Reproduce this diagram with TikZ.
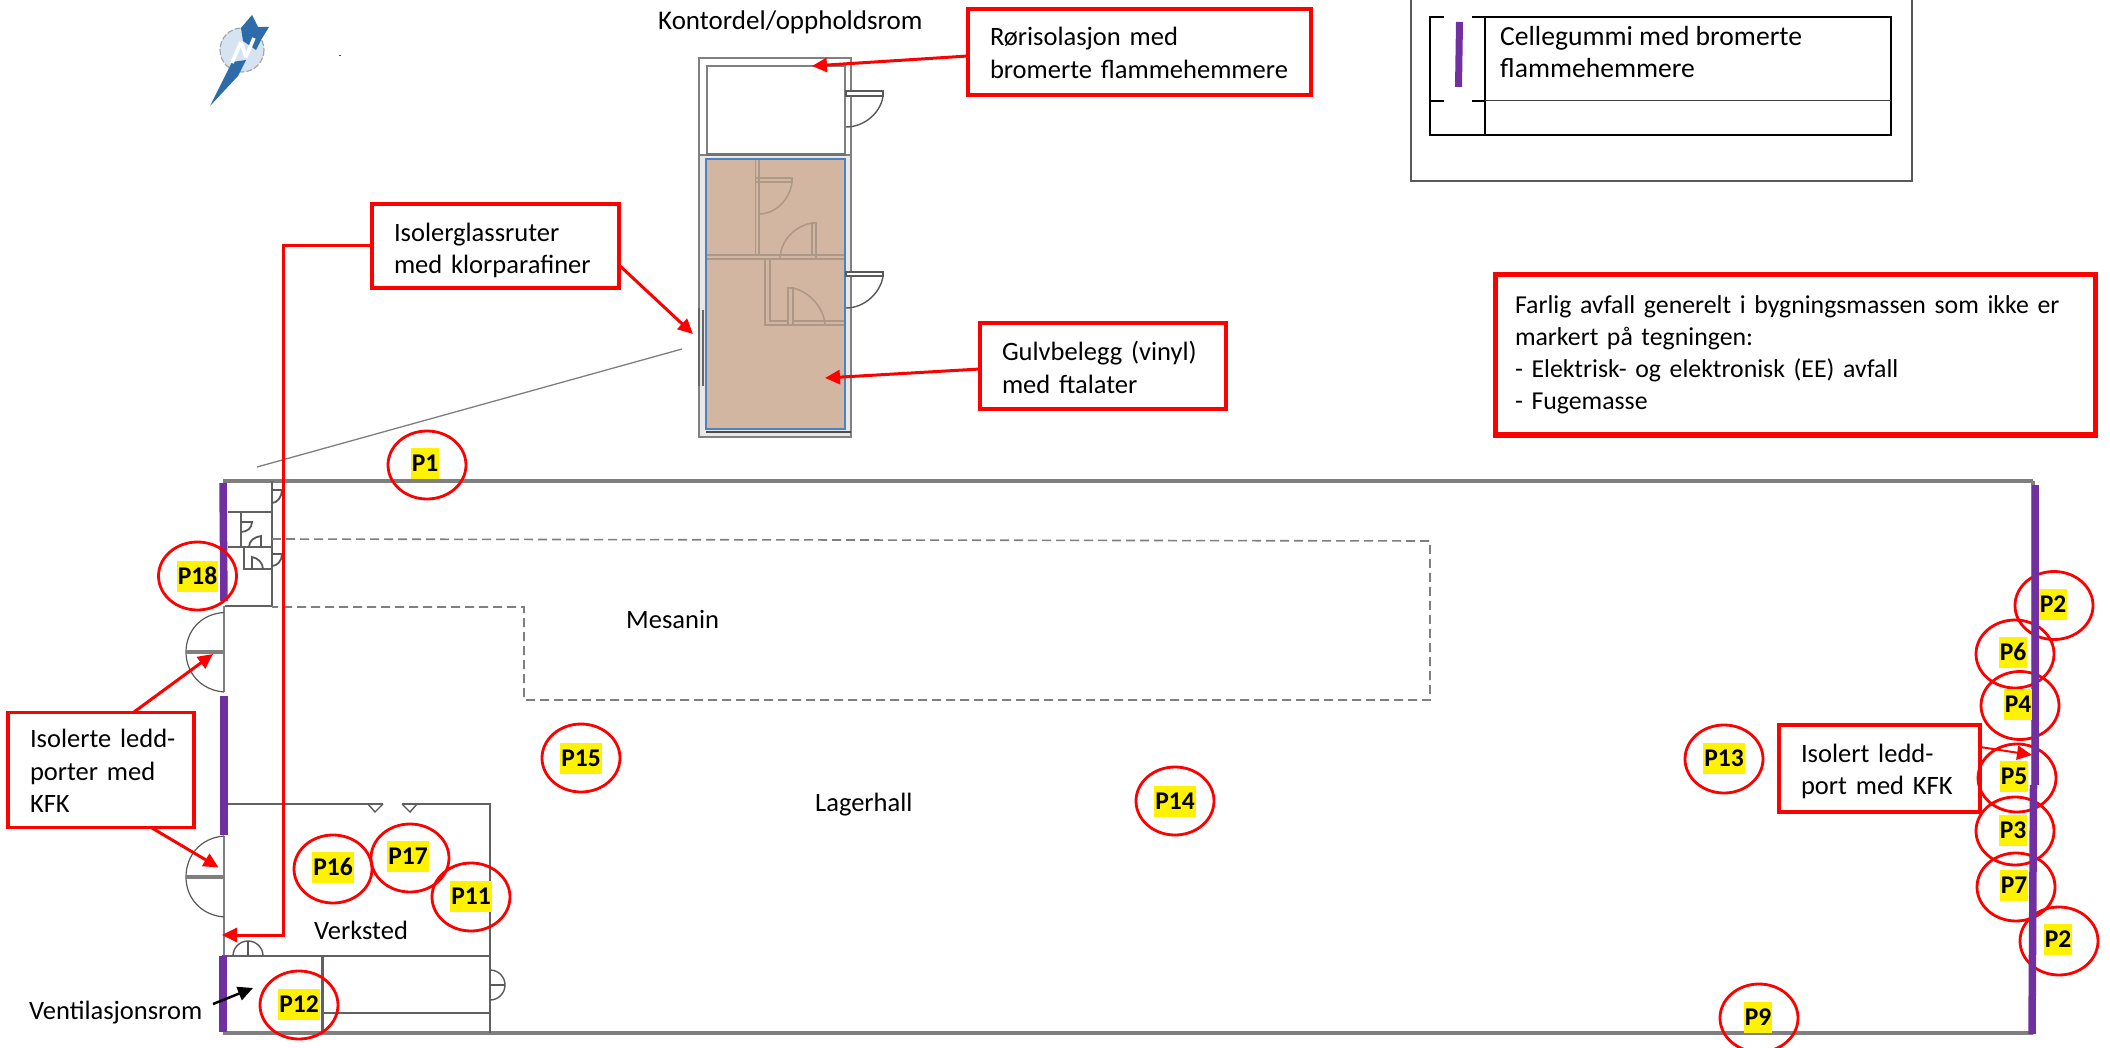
\documentclass[tikz,border=0pt]{standalone}
\usepackage{fontspec}
\setmainfont{Carlito}
\usetikzlibrary{arrows.meta,shapes.geometric}
\definecolor{wallgray}{HTML}{7F7F7F}
\definecolor{lila}{HTML}{7030A0}
\definecolor{tan}{HTML}{D2B6A1}
\definecolor{tanline}{HTML}{AD9787}
\definecolor{bluerim}{HTML}{4A82C3}
\definecolor{logoblue}{HTML}{2E6BAB}
\definecolor{logolight}{HTML}{D6E4F2}
\newcommand\liftby[1]{\rule{0pt}{#1pt}}
\tikzset{
  x=1pt,y=-1pt,
  every node/.style={font=\fontsize{26.5}{32.4}\selectfont},
  plain/.style={inner sep=0pt,anchor=west},
  redbox/.style={draw=red,fill=white,line width=3.5pt,rectangle,align=left,inner xsep=22pt,inner ysep=0pt},
  redarrow/.style={draw=red,line width=3pt,-{Triangle[length=15pt,width=14pt]}},
  wall/.style={draw=wallgray,line width=3.5pt},
  thin wall/.style={draw=black!62,line width=2.4pt},
  lilabar/.style={draw=lila,line width=7.5pt},
  ringp/.style={draw=red,line width=2.8pt,ellipse,minimum width=78pt,minimum height=68pt,inner sep=0pt},
  tag/.style={fill=yellow,inner xsep=1pt,inner ysep=0pt,minimum height=31pt,font=\fontsize{25.5}{28}\bfseries\selectfont},
  inroom/.style={draw=tanline,line width=1.5pt},
  plan/.style={draw=black!65,line width=1.4pt},
  officewall/.style={draw=black!50,line width=1.4pt}
}
\begin{document}
\begin{tikzpicture}
\useasboundingbox (0,0) rectangle (2110,1048);
\fill[white] (0,0) rectangle (2110,1048);

% logo
\fill[logolight] (242,50) circle (22);
\draw[gray!70,line width=1.2pt,dash pattern=on 6pt off 2pt] (242,50) circle (22);
\fill[logoblue] (252,15) -- (258,27) -- (269,27) -- (261,40) -- (256,50) -- (243,41) -- (241,28) -- cycle;
\fill[logoblue] (210,106) -- (232,62) -- (246,60) -- (238,76) -- cycle;
\draw[white,line width=3.5pt,line join=bevel] (232,63) -- (241,42) -- (246,57) -- (254,38);
\fill[black!70] (339,55) rectangle (341,56);

% legend
\draw[gray!70!black,line width=1.4pt] (1411,-4) -- (1411,181) -- (1912,181) -- (1912,-4);
\draw[black,line width=1.8pt] (1430,17) rectangle (1891,135);
\draw[black,line width=1.8pt] (1485,17) -- (1485,135);
\draw[black!75,line width=1pt] (1485,101) -- (1891,101);
\draw[black,line width=1.8pt] (1430,101) -- (1485,101);
\fill[white] (1444,14) rectangle (1472,104);
\draw[lila,line width=7pt] (1459.5,22) -- (1458.5,87);
\node[plain,font=\fontsize{27.6}{32}\selectfont,align=left] (legendtext) at (1500,52) {Cellegummi med bromerte\\flammehemmere};

% office block
\fill[gray!18] (699,153) rectangle (851,437);
\draw[officewall,fill=white] (699,58) rectangle (851,155);
\draw[officewall] (707,66) rectangle (845,155);
\draw[black!55,line width=3pt] (706,155) -- (846,155);
\draw[officewall] (699,155) -- (699,437) -- (851,437) -- (851,155);
\fill[tan] (706,159) rectangle (845,429);
\draw[inroom] (755.5,159) -- (755.5,255) (759,159) -- (759,255);
\draw[inroom] (707,255) -- (845,255) (707,259) -- (845,259);
\draw[inroom] (756,178) -- (792,178) -- (792,182) -- (756,182);
\draw[inroom] (792,182) .. controls (790,200) and (775,214) .. (759,214);
\draw[inroom] (812,255) -- (812,223) -- (816,223) -- (816,259);
\draw[inroom] (812,223) .. controls (795,226) and (781,240) .. (780,258);
\draw[inroom] (765,259) -- (765,325) -- (845,325) (770,259) -- (770,321) -- (788,321) (793,321) -- (845,321);
\draw[inroom] (788,325) -- (788,288) -- (793,288) -- (793,325);
\draw[inroom] (793,288) .. controls (810,292) and (824,308) .. (825,325);
\draw[bluerim,line width=1.5pt] (706,159) rectangle (845,429);
\draw[black!70,line width=2.5pt] (706,432) -- (851,432);
\draw[black!60,line width=1.2pt] (699,308) -- (699,386) (703,310) -- (703,386);
% outer doors of office
\draw[plan,fill=white] (846,91) rectangle (883,96);
\draw[plan] (883,96) .. controls (881,112) and (865,127) .. (846,127);
\draw[plan,fill=white] (846,272) rectangle (883,276);
\draw[plan] (883,276) .. controls (881,292) and (865,308) .. (846,308);
\draw[wallgray,line width=1.3pt] (682,349) -- (257,467);

% building walls
\draw[wall] (223,481) -- (2033,481);
\draw[wall] (223,1033) -- (2033,1033);
\draw[wall] (2033,481) -- (2033,1033);
\draw[wallgray,line width=1.8pt] (224,692) -- (224,612);
\draw[wallgray,line width=1.8pt] (224,836) -- (224,956);
\draw[wallgray,line width=1.8pt] (224,606) -- (224,612);

% north west rooms
\draw[thin wall] (272,481) -- (272,606) -- (225,606);
\draw[thin wall] (228,512) -- (272,512) (228,547) -- (272,547);
\draw[thin wall] (241,512) -- (241,547);
\draw[thin wall] (244,547) -- (244,569) -- (272,569);
\draw[plan,line width=1.8pt] (241,522) -- (252,522) .. controls (252,528) and (247,532) .. (241,532);
\draw[plan,line width=1.8pt] (261,547) -- (261,536) .. controls (254,537) and (249,541) .. (249,547);
\draw[plan,line width=1.8pt] (252,569) -- (252,557) .. controls (258,558) and (263,563) .. (263,569);
\draw[plan,line width=1.8pt] (272,490) -- (282,490) .. controls (282,497) and (277,503) .. (272,503);
\draw[plan,line width=1.8pt] (272,554) -- (282,554) .. controls (282,561) and (277,566) .. (272,566);

% gates
\draw[black!65,line width=1.2pt] (224,612.5) .. controls (200,614) and (186,632) .. (186,652) .. controls (186,672) and (200,690) .. (224,692);
\draw[wallgray,line width=4.5pt] (186,652) -- (224,652);
\draw[black!65,line width=1.2pt] (224,836) .. controls (200,838) and (186,856) .. (186,877) .. controls (186,897) and (200,915) .. (224,917);
\draw[wallgray,line width=4.5pt] (186,877) -- (224,877);

% workshop
\draw[thin wall] (228,804) -- (490,804) -- (490,1033);
\draw[thin wall] (222,956) -- (490,956);
\draw[thin wall] (322.5,956) -- (322.5,1033);
\draw[thin wall] (322.5,1013) -- (490,1013);
\draw[white,line width=3.5pt] (383,804) -- (402,804);
\draw[plan] (368,804) -- (375,812) -- (383,804) (402,804) -- (410,812) -- (417,804);
\draw[plan] (233,956) arc[start angle=180,end angle=360,radius=15];
\draw[plan] (248,941) -- (248,956);
\draw[plan] (490,970) arc[start angle=-90,end angle=90,radius=15];
\draw[plan] (490,985) -- (505,985);

% mezzanine
\draw[wallgray,line width=1.6pt,dash pattern=on 9pt off 5pt] (272,539) -- (1430,541) -- (1430,700) -- (524,700) -- (524,607) -- (272,607);

% left bars
\draw[lilabar] (223,483) -- (224,601);
\draw[lilabar] (224,696) -- (224,835);
\draw[lilabar] (223,956) -- (223,1032);

% text
\node[plain,font=\fontsize{27}{32}\selectfont] (kontor) at (658,22) {Kontordel/oppholdsrom};
\node[plain] (mesanin) at (626,619) {Mesanin};
\node[plain] (lager) at (815,805) {Lagerhall};
\node[plain] (verksted) at (314,930) {Verksted};
\node[plain] (ventil) at (29,1013) {Ventilasjonsrom};

% callouts
\node[redbox,minimum width=343pt,minimum height=86pt,text width=299pt] (ror) at (1139.5,52) {\liftby{20}Rørisolasjon med\\bromerte flammehemmere};
\node[redbox,minimum width=246pt,minimum height=86pt,text width=202pt] (gulv) at (1103,366) {\liftby{22}Gulvbelegg (vinyl)\\med ftalater};
\node[redbox,minimum width=247pt,minimum height=84pt,text width=203pt,inner xsep=22pt] (glass) at (495.5,246) {\liftby{27}Isolerglassruter\\med klorparafiner};
\node[redbox,minimum width=186pt,minimum height=115pt,text width=142pt] (ledd) at (101,770) {\liftby{20}\mbox{Isolerte ledd-}\\porter med\\KFK};
\node[redbox,minimum width=201pt,minimum height=87pt,text width=157pt] (port) at (1879.5,768.5) {\liftby{24}Isolert ledd-\\port med KFK};
\node[redbox,font=\fontsize{25.8}{32}\selectfont,line width=5pt,inner xsep=20pt,minimum width=600pt,minimum height=160pt,text width=560pt] (farlig) at (1795,355) {Farlig avfall generelt i bygningsmassen som ikke er\\markert på tegningen:\\- Elektrisk- og elektronisk (EE) avfall\\- Fugemasse};

% arrow ends
\coordinate (rorS) at (968,56);
\coordinate (rorT) at (812,66);
\coordinate (gulvS) at (980,369);
\coordinate (gulvT) at (825,378);
\coordinate (glassA) at (619,265);
\coordinate (glassB) at (693,334);
\coordinate (glassC) at (372,246);
\coordinate (glassBend1) at (283,246);
\coordinate (glassBend2) at (283,935);
\coordinate (glassD) at (222,935);
\coordinate (leddA) at (134,712);
\coordinate (leddAT) at (213,654);
\coordinate (leddB) at (152,828);
\coordinate (leddBT) at (218.6,867.5);
\coordinate (portS) at (1980,747);
\coordinate (portT) at (2032,755);
\coordinate (ventS) at (213,1004);
\coordinate (ventT) at (253,988);

\draw[redarrow] (rorS) -- (rorT);
\draw[redarrow] (gulvS) -- (gulvT);
\draw[redarrow] (glassA) -- (glassB);
\draw[redarrow] (glassC) -- (glassBend1) -- (glassBend2) -- (glassD);
\draw[redarrow] (leddA) -- (leddAT);
\draw[redarrow] (leddB) -- (leddBT);
\draw[redarrow,line width=2pt] (portS) -- (portT);
\draw[black,line width=2.5pt,-{Triangle[length=15pt,width=14pt]}] (ventS) -- (ventT);

% markers
\foreach \nm/\cx/\cy in {
 P1/427/465, P18/197.5/576, P16/333/869, P17/410/858, P11/471/897, P12/299/1005,
 P15/581/758, P14/1175/801, P13/1724/759, P9/1759/1018,
 P2a/2054/605.5, P6/2015/654, P4/2020/705.5, P5/2017/778, P3/2015/831, P7/2016/887, P2b/2059/941}{
  \node[ringp] (ring\nm) at (\cx,\cy) {};
}
\node[tag] (tagP1) at (425,463) {P1};
\node[tag] (tagP18) at (197.5,576) {P18};
\node[tag] (tagP16) at (333,867) {P16};
\node[tag] (tagP17) at (408,856) {P17};
\node[tag] (tagP11) at (471,896) {P11};
\node[tag] (tagP12) at (299,1004) {P12};
\node[tag] (tagP15) at (581,758) {P15};
\node[tag] (tagP14) at (1175,801) {P14};
\node[tag] (tagP13) at (1724,758) {P13};
\node[tag] (tagP9) at (1758,1017) {P9};
\node[tag] (tagP2a) at (2053,604) {P2};
\node[tag] (tagP6) at (2013,652) {P6};
\node[tag] (tagP4) at (2018,704) {P4};
\node[tag] (tagP5) at (2014,776) {P5};
\node[tag] (tagP3) at (2013,830) {P3};
\node[tag] (tagP7) at (2014,885) {P7};
\node[tag] (tagP2b) at (2058,939) {P2};

% right bars
\draw[lilabar] (2035.5,485) -- (2035.5,785);
\draw[lilabar] (2033.5,785) -- (2032,1034);
\end{tikzpicture}
\end{document}
